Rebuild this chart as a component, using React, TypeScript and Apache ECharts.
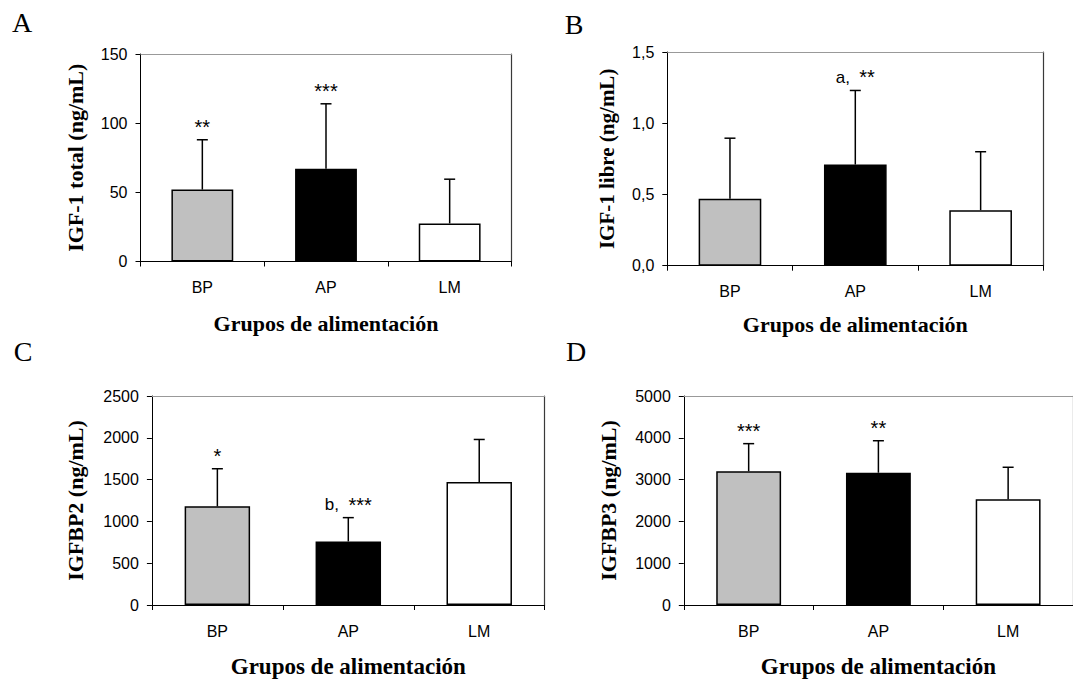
import React, { useEffect, useRef } from "react";
import * as echarts from "echarts";

const categories = ["BP", "AP", "LM"];
const barColors = ["#c0c0c0", "#000000", "#ffffff"];

const igf1TotalMean = [52, 67, 27.5];
const igf1TotalSD = [36, 47, 32];
const igf1TotalMarks = ["**", "***", ""];

const igf1LibreMean = [0.47, 0.71, 0.39];
const igf1LibreSD = [0.425, 0.52, 0.41];
const igf1LibreMarks = ["", "a,  **", ""];

const igfbp2Mean = [1180, 760, 1470];
const igfbp2SD = [450, 285, 510];
const igfbp2Marks = ["*", "b,  ***", ""];

const igfbp3Mean = [3200, 3165, 2530];
const igfbp3SD = [660, 765, 765];
const igfbp3Marks = ["***", "**", ""];

const panelLetters = ["A", "B", "C", "D"];
const yTitles = ["IGF-1 total (ng/mL)", "IGF-1 libre (ng/mL)", "IGFBP2 (ng/mL)", "IGFBP3 (ng/mL)"];
const xTitle = "Grupos de alimentación";

const panels = [
  { mean: igf1TotalMean, sd: igf1TotalSD, marks: igf1TotalMarks, max: 150, interval: 50, dec: 0 },
  { mean: igf1LibreMean, sd: igf1LibreSD, marks: igf1LibreMarks, max: 1.5, interval: 0.5, dec: 1 },
  { mean: igfbp2Mean, sd: igfbp2SD, marks: igfbp2Marks, max: 2500, interval: 500, dec: 0 },
  { mean: igfbp3Mean, sd: igfbp3SD, marks: igfbp3Marks, max: 5000, interval: 1000, dec: 0 },
];

const grids = [
  { left: 140.5, top: 54, width: 371, height: 207.5 },
  { left: 667.3, top: 52, width: 376, height: 213.7 },
  { left: 151.9, top: 396, width: 392.8, height: 211.7 },
  { left: 683.8, top: 396, width: 393, height: 211.7 },
];
const yNameGaps = [54, 50, 65, 64];
const xNameGaps = [51, 48, 50, 50];
const yTitleSizes = [22, 21, 22, 22];
const xTitleSizes = [22, 22, 23, 23];
const letterPos = [
  [22, 22],
  [574, 24],
  [23, 351],
  [576, 351],
];

const SANS = '"Liberation Sans", Arial, sans-serif';
const SERIF = '"Liberation Serif", "Times New Roman", serif';

function richMark(t: string) {
  return t
    .split(/(\*+)/)
    .filter((s) => s.length > 0)
    .map((s) => (s[0] === "*" ? `{s|${s}}` : `{n|${s}}`))
    .join("");
}

export default function App() {
  const ref = useRef<HTMLDivElement>(null);
  useEffect(() => {
    if (!ref.current) return;
    const chart = echarts.init(ref.current, null, { renderer: "svg" });
    const grid: any[] = [];
    const xAxis: any[] = [];
    const yAxis: any[] = [];
    const xAxisExtra: any[] = [];
    const yAxisExtra: any[] = [];
    const series: any[] = [];
    panels.forEach((p, k) => {
      grid.push({ ...grids[k], show: false });
      xAxis.push({
        type: "category",
        gridIndex: k,
        data: categories,
        boundaryGap: true,
        axisLine: { onZero: false, lineStyle: { color: "#000", width: 1 } },
        axisTick: { show: true, length: 5, alignWithLabel: false, lineStyle: { color: "#000" } },
        axisLabel: { color: "#000", fontSize: 16, fontFamily: SANS, margin: 18 },
        name: xTitle,
        nameLocation: "middle",
        nameGap: xNameGaps[k],
        nameTextStyle: { color: "#000", fontSize: xTitleSizes[k], fontWeight: "bold", fontFamily: SERIF },
      });
      xAxisExtra.push({
        type: "category",
        gridIndex: k,
        position: "top",
        data: categories,
        axisLine: { show: true, onZero: false, lineStyle: { color: "#999", width: 1 } },
        axisTick: { show: false },
        axisLabel: { show: false },
      });
      yAxis.push({
        type: "value",
        gridIndex: k,
        min: 0,
        max: p.max,
        interval: p.interval,
        splitLine: { show: false },
        axisLine: { show: true, onZero: false, lineStyle: { color: "#000", width: 1 } },
        axisTick: { show: true, length: 5, lineStyle: { color: "#000" } },
        axisLabel: {
          color: "#000",
          fontSize: 16,
          fontFamily: SANS,
          margin: 13,
          formatter: (v: number) => (p.dec ? v.toFixed(p.dec).replace(".", ",") : String(v)),
        },
        name: yTitles[k],
        nameLocation: "middle",
        nameGap: yNameGaps[k],
        nameTextStyle: { color: "#000", fontSize: yTitleSizes[k], fontWeight: "bold", fontFamily: SERIF },
      });
      yAxisExtra.push({
        type: "value",
        gridIndex: k,
        position: "right",
        min: 0,
        max: p.max,
        interval: p.interval,
        splitLine: { show: false },
        axisLine: { show: true, onZero: false, lineStyle: { color: "#3a3a3a", width: 1.2 } },
        axisTick: { show: false },
        axisLabel: { show: false },
      });
      series.push({
        type: "bar",
        xAxisIndex: k,
        yAxisIndex: k,
        barWidth: "50%",
        z: 2,
        data: p.mean.map((m, i) => ({
          value: m,
          itemStyle: { color: barColors[i], borderColor: "#000", borderWidth: 1.5 },
        })),
      });
      const marks = p.marks;
      series.push({
        type: "custom",
        xAxisIndex: k,
        yAxisIndex: k,
        z: 3,
        data: p.mean.map((m, i) => [i, m, m + p.sd[i]]),
        renderItem: (params: any, api: any) => {
          const i = api.value(0);
          const base = api.coord([i, api.value(1)]);
          const top = api.coord([i, api.value(2)]);
          const children: any[] = [
            {
              type: "line",
              shape: { x1: base[0], y1: base[1], x2: top[0], y2: top[1] },
              style: { stroke: "#000", lineWidth: 1.5 },
            },
            {
              type: "line",
              shape: { x1: top[0] - 5.5, y1: top[1], x2: top[0] + 5.5, y2: top[1] },
              style: { stroke: "#000", lineWidth: 1.5 },
            },
          ];
          const t = marks[params.dataIndex];
          if (t) {
            children.push({
              type: "text",
              x: top[0],
              y: top[1] - 13,
              style: {
                text: richMark(t),
                fill: "#000",
                align: "center",
                verticalAlign: "middle",
                rich: {
                  n: { fontSize: 17, fontFamily: SANS, fill: "#000" },
                  s: { fontSize: 20, fontFamily: SANS, fill: "#000" },
                },
              },
            });
          }
          return { type: "group", children };
        },
      });
    });
    chart.setOption({
      animation: false,
      backgroundColor: "#ffffff",
      grid,
      xAxis: [...xAxis, ...xAxisExtra],
      yAxis: [...yAxis, ...yAxisExtra],
      series,
      graphic: panelLetters.map((l, k) => ({
        type: "text",
        x: letterPos[k][0],
        y: letterPos[k][1],
        style: {
          text: l,
          fill: "#000",
          fontSize: 28,
          fontFamily: SERIF,
          align: "center",
          verticalAlign: "middle",
        },
      })),
    });
    return () => chart.dispose();
  }, []);
  return (
    <div
      ref={ref}
      style={{ position: "absolute", left: 0, top: 0, width: 1073, height: 679 }}
    />
  );
}
